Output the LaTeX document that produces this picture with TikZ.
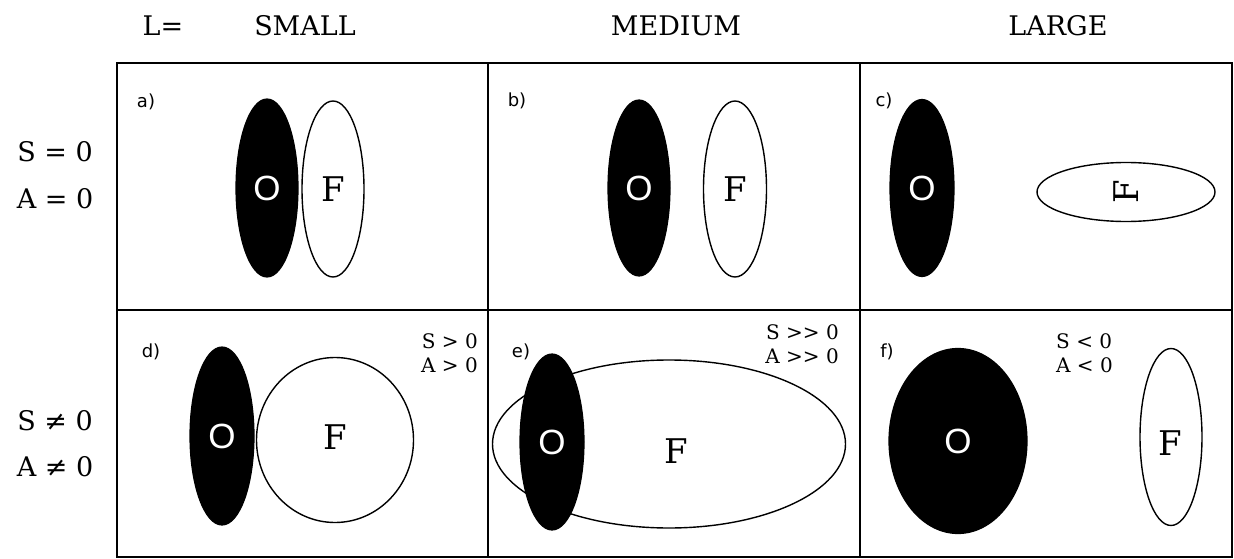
\documentclass[tikz,border=0pt]{standalone}
\usepackage{fontspec}
\setmainfont[Ligatures=NoCommon]{DejaVu Serif}
\newfontfamily\lblfont{DejaVu Sans}
\newfontfamily\ofont{Liberation Sans}
\usetikzlibrary{shapes.geometric}
\begin{document}
\begin{tikzpicture}[x=1pt,y=-1pt,
  frame/.style={line width=2pt},
  blackell/.style={ellipse,draw=black,fill=black,line width=1.2pt,inner sep=0pt,text=white,font=\ofont\fontsize{35}{35}\selectfont},
  whiteell/.style={ellipse,draw=black,fill=white,line width=1.4pt,inner sep=0pt,font=\fontsize{34}{34}\selectfont},
  head/.style={font=\fontsize{27}{27}\selectfont,inner sep=0pt},
  rowlbl/.style={font=\fontsize{27}{27}\selectfont,inner sep=0pt},
  panel/.style={font=\lblfont\fontsize{18}{18}\selectfont,inner sep=0pt},
  cond/.style={font=\fontsize{20}{20}\selectfont,inner sep=0pt},
  ftext/.style={font=\fontsize{34}{34}\selectfont,inner sep=0pt}]
\useasboundingbox (0,0) rectangle (1234,559);
% headers
\node[head] (hL) at (163,26) {L=};
\node[head] (hS) at (305,26) {SMALL};
\node[head] (hM) at (676,26) {MEDIUM};
\node[head] (hG) at (1058,26) {LARGE};
% row labels
\node[rowlbl] (r1a) at (55,152) {S = 0};
\node[rowlbl] (r1b) at (55,199) {A = 0};
\node[rowlbl] (r2a) at (55,421) {S ≠ 0};
\node[rowlbl] (r2b) at (55,467) {A ≠ 0};
% frame
\draw[frame] (117,63) rectangle (1232,557);
\draw[line width=2.6pt] (488,63) -- (488,557);
\draw[line width=2.6pt] (860,63) -- (860,557);
\draw[line width=2.6pt] (117,310) -- (1232,310);
% panel labels
\node[panel] (la) at (146,102) {a)};
\node[panel] (lb) at (517,101) {b)};
\node[panel] (lc) at (884,101) {c)};
\node[panel] (ld) at (151,352) {d)};
\node[panel] (le) at (521,352) {e)};
\node[panel] (lf) at (887,352) {f)};
% a)
\node[blackell,minimum width=62,minimum height=178] (Oa) at (267,188) {O};
\node[whiteell,minimum width=62,minimum height=176] (Fa) at (333,189) {F};
% b)
\node[blackell,minimum width=62,minimum height=176] (Ob) at (639,188) {O};
\node[whiteell,minimum width=63,minimum height=176] (Fb) at (735,189) {F};
% c)
\node[blackell,minimum width=64,minimum height=177] (Oc) at (922,188) {O};
\node[whiteell,rotate=90,minimum width=59,minimum height=178] (Fc) at (1126,192) {F};
% d)
\node[blackell,minimum width=64,minimum height=178] (Od) at (222,436) {O};
\node[whiteell,minimum width=157,minimum height=165] (Fd) at (335,440) {};
\node[ftext] (tFd) at (335,437) {F};
\node[cond,anchor=east] (cd1) at (478,341) {S > 0};
\node[cond,anchor=east] (cd2) at (478,365) {A > 0};
% e)
\node[whiteell,minimum width=353,minimum height=168] (Fe) at (669,444) {};
\node[ftext] (tFe) at (676,451) {F};
\node[blackell,minimum width=64,minimum height=176] (Oe) at (552,442) {O};
\node[cond,anchor=east] (ce1) at (839,332) {S {>}{>} 0};
\node[cond,anchor=east] (ce2) at (839,356) {A {>}{>} 0};
% f)
\node[blackell,minimum width=138,minimum height=185] (Of) at (958,441) {O};
\node[whiteell,minimum width=62,minimum height=177] (Ff) at (1171,437) {};
\node[ftext] (tFf) at (1170,443) {F};
\node[cond,anchor=west] (cf1) at (1056,341) {S < 0};
\node[cond,anchor=west] (cf2) at (1056,365) {A < 0};
\end{tikzpicture}
\end{document}
